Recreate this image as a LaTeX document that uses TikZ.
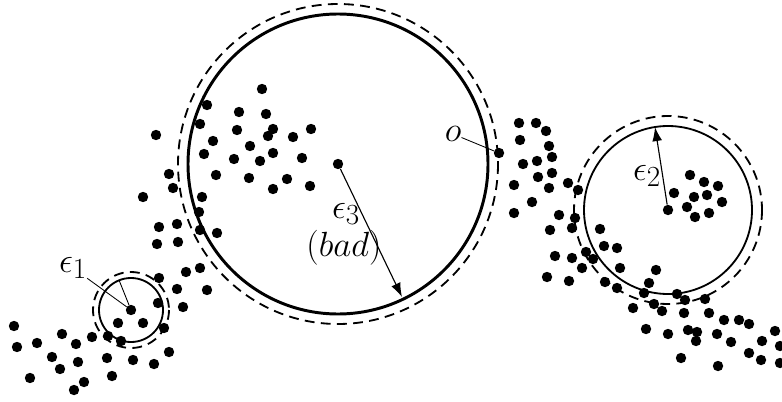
\documentclass[tikz,border=0pt]{standalone}
\usetikzlibrary{arrows.meta,positioning,calc}

\begin{document}
\begin{tikzpicture}[x=0.025cm,y=-0.025cm,>={Latex[length=10pt,width=7pt]},
pt/.style={circle,fill,inner sep=0pt,minimum size=0.26cm},
ring/.style={line width=1.3pt},
bigring/.style={line width=2.1pt},
halo/.style={line width=1.3pt,dash pattern=on 7pt off 4.5pt},
lead/.style={line width=0.6pt},
lbl/.style={font=\fontsize{24.88}{28}\selectfont,inner sep=0pt}]
\useasboundingbox (0,0) rectangle (782,401);
% centres of the three balls and the point o
\node[pt] (c1) at (131,310) {};
\node[pt] (c2) at (668,210) {};
\node[pt] (c3) at (338,164) {};
\node[pt] (po) at (499,153) {};
% the sample points
\foreach \x/\y [count=\i] in {143/197,173/188,202/197,199/212,200/230,217/233,159/227,177/224,
  157/244,178/242,186/272,200/268,159/278,177/289,207/290,158/303,183/307,118/323,143/323,
  164/328,14/326,17/347,37/343,62/334,92/337,108/336,121/341,76/344,52/357,78/362,107/358,
  133/360,154/364,169/352,60/369,30/378,84/382,74/390,112/376,
  262/89,207/105,239/112,266/114,200/124,237/130,273/129,268/136,293/137,311/129,156/135,
  213/141,250/146,204/154,234/159,260/161,273/153,302/158,216/175,169/174,249/178,287/179,
  273/189,310/186,
  519/123,536/123,546/131,520/140,549/146,552/157,537/161,523/164,552/173,538/177,514/185,
  549/188,568/183,578/190,532/202,514/213,559/215,575/218,550/230,572/228,600/229,604/246,
  617/248,555/256,572/258,586/252,593/259,582/268,547/277,569/281,605/282,617/288,
  620/268,656/270,649/283,644/293,677/294,685/300,705/299,633/308,654/304,662/311,684/313,
  709/313,724/320,739/320,749/324,646/329,668/334,688/330,697/332,696/341,717/334,731/342,
  762/341,775/331,780/346,749/353,761/360,780/363,681/358,718/366,
  690/175,704/182,718/186,674/193,694/197,707/195,722/202,687/207,695/217,709/213}
  \node[pt] (d\i) at (\x,\y) {};
% balls
\draw[ring] (c1.center) circle (32);
\draw[halo] (c1.center) circle (38);
\draw[ring] (c2.center) circle (84);
\draw[halo] (c2.center) circle (94);
\draw[bigring] (c3.center) circle (150);
\draw[halo] (c3.center) circle (160);
% radii
\coordinate (r1) at (119,280);
\coordinate (r2) at (655,127);
\coordinate (r3) at (402,297);
\draw[lead] (c1) -- (r1);
\draw[->,line width=0.8pt] (c2) -- (r2);
\draw[->,line width=0.8pt] (c3) -- (r3);
% labels
\node[lbl] (e1) at (73,268) {$\epsilon_1$};
\node[lbl] (e2) at (647,176) {$\epsilon_2$};
\node[lbl] (e3) at (346,214) {$\epsilon_3$};
\node[lbl] (bad) at (344,248) {$(bad)$};
\node[lbl] (ol) at (453,134) {$o$};
\draw[lead] (e1) -- (c1);
\draw[lead] (ol) -- (po);
\end{tikzpicture}
\end{document}
